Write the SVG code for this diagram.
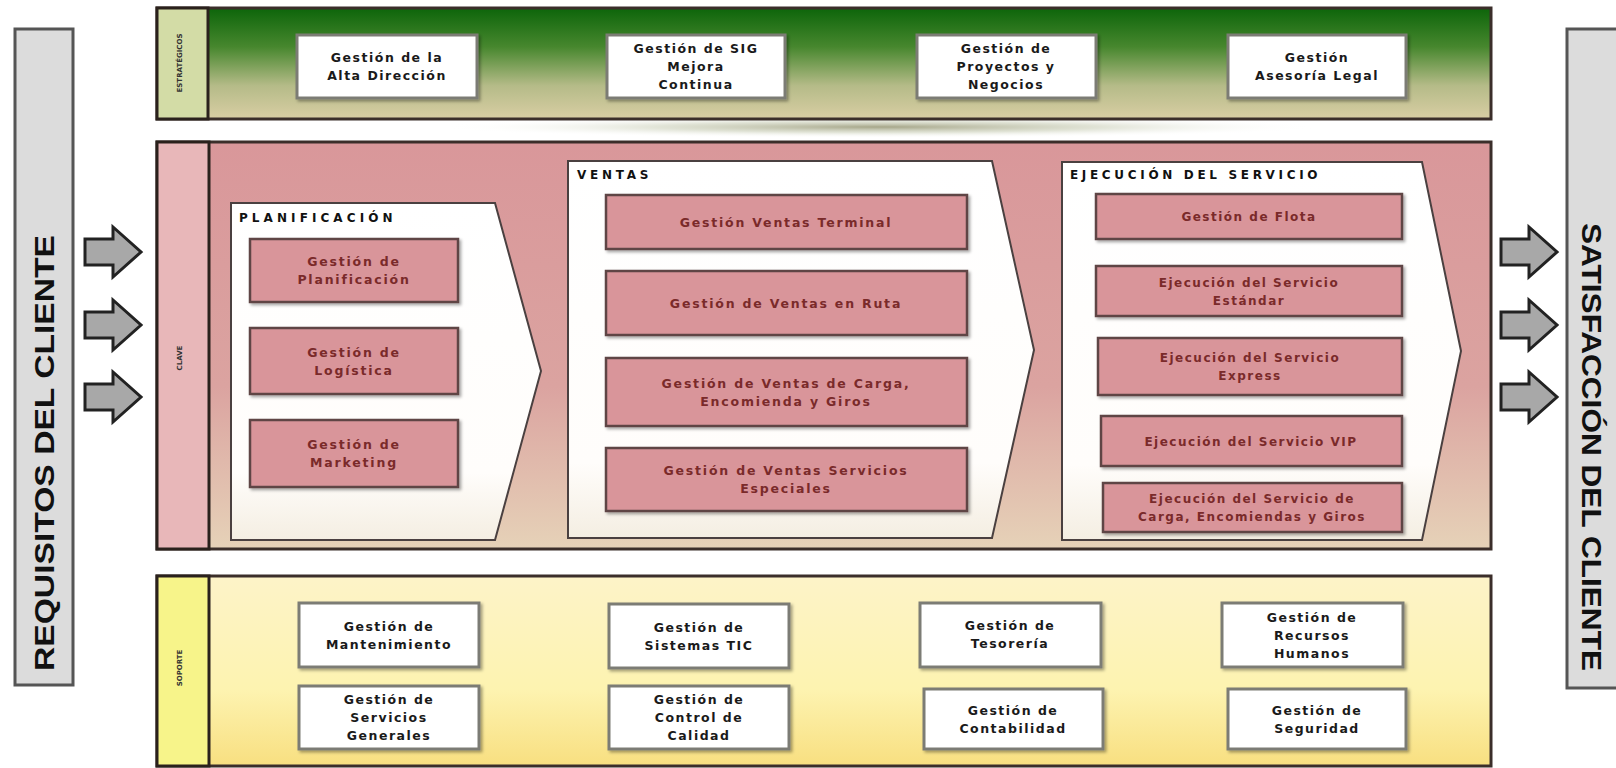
<svg xmlns="http://www.w3.org/2000/svg" width="1616" height="768" viewBox="0 0 1616 768">
<defs>
<linearGradient id="gTop" x1="0" y1="0" x2="0" y2="1">
<stop offset="0" stop-color="#0d650a"/><stop offset="0.35" stop-color="#47872e"/><stop offset="0.7" stop-color="#b5bb88"/><stop offset="1" stop-color="#d9cea4"/>
</linearGradient>
<linearGradient id="gMid" x1="0" y1="0" x2="0" y2="1">
<stop offset="0" stop-color="#d9979a"/><stop offset="0.6" stop-color="#dba3a0"/><stop offset="1" stop-color="#e6d2b8"/>
</linearGradient>
<linearGradient id="gBot" x1="0" y1="0" x2="0" y2="1">
<stop offset="0" stop-color="#fdf3c8"/><stop offset="0.6" stop-color="#fdf3b0"/><stop offset="1" stop-color="#f8df80"/>
</linearGradient>
<linearGradient id="gChev" x1="0" y1="0" x2="0" y2="1">
<stop offset="0" stop-color="#ffffff"/><stop offset="0.8" stop-color="#fffdfb"/><stop offset="1" stop-color="#f4eee2"/>
</linearGradient>
<radialGradient id="gRefl" cx="0.5" cy="0.5" r="0.5">
<stop offset="0" stop-color="#6a6a3a" stop-opacity="0.6"/><stop offset="0.5" stop-color="#a8b08a" stop-opacity="0.35"/><stop offset="1" stop-color="#ffffff" stop-opacity="0"/>
</radialGradient>
<filter id="sh" x="-10%" y="-10%" width="130%" height="130%">
<feDropShadow dx="2" dy="2" stdDeviation="1.5" flood-color="#000" flood-opacity="0.35"/>
</filter>
<path id="arrow" d="M0,-13 H28 V-25 L56,0 L28,25 V13 H0 Z"/>
<style>
.band{stroke:#3b2e2a;stroke-width:3}
.col{stroke:#2a211c;stroke-width:3}
.wbox{fill:#ffffff;stroke:#7c7c74;stroke-width:3;filter:url(#sh)}
.pbox{fill:#d9959a;stroke:#5e4545;stroke-width:2.5;filter:url(#sh)}
.chev{fill:url(#gChev);stroke:#4a4040;stroke-width:2}
.side{fill:#dcdcdc;stroke:#555555;stroke-width:3}
.arr{fill:#a8a8a8;stroke:#222222;stroke-width:3}
.wt{font-family:"DejaVu Sans",Verdana,sans-serif;font-weight:bold;font-size:12.5px;fill:#1a1a1a;text-anchor:middle;letter-spacing:1.5px}
.pt{font-family:"DejaVu Sans",Verdana,sans-serif;font-weight:bold;font-size:12.5px;fill:#7a2a2a;text-anchor:middle;letter-spacing:1.8px}
.et{font-family:"DejaVu Sans",Verdana,sans-serif;font-weight:bold;font-size:12px;fill:#7a2a2a;text-anchor:middle;letter-spacing:1.5px}
.tt{font-family:"DejaVu Sans",Verdana,sans-serif;font-weight:bold;font-size:12px;fill:#111111;letter-spacing:1.5px}
.big{font-family:"Liberation Sans Narrow","Liberation Sans",Arial,sans-serif;font-weight:bold;font-size:28px;fill:#111111;text-anchor:middle}
.lab{font-family:"DejaVu Sans",Verdana,sans-serif;font-weight:bold;font-size:7px;fill:#333333;text-anchor:middle}
</style>
</defs>
<rect width="1616" height="768" fill="#ffffff"/>

<g id="requisitos">
<rect class="side" x="15" y="29" width="58" height="656"/>
<text class="big" transform="translate(54,453) rotate(-90)" textLength="436" lengthAdjust="spacingAndGlyphs">REQUISITOS DEL CLIENTE</text>
</g>
<g id="satisfaccion">
<rect class="side" x="1567" y="29" width="60" height="659"/>
<text class="big" transform="translate(1582,447) rotate(90)" textLength="448" lengthAdjust="spacingAndGlyphs">SATISFACCIÓN DEL CLIENTE</text>
</g>

<ellipse cx="880" cy="127" rx="440" ry="11" fill="url(#gRefl)"/>

<g id="estrategicos">
<rect class="band" x="157" y="8" width="1334" height="111" fill="url(#gTop)"/>
<rect class="col" x="157" y="8" width="51" height="111" fill="#d3dca6"/>
<text class="lab" transform="translate(182,63) rotate(-90)" fill="#3d5a2a">ESTRATÉGICOS</text>
</g>
<g id="clave">
<rect class="band" x="157" y="142" width="1334" height="407" fill="url(#gMid)"/>
<rect class="col" x="157" y="142" width="52" height="407" fill="#e8b7b9"/>
<text class="lab" transform="translate(182,358) rotate(-90)">CLAVE</text>
</g>
<g id="soporte">
<rect class="band" x="157" y="576" width="1334" height="190" fill="url(#gBot)"/>
<rect class="col" x="157" y="576" width="52" height="190" fill="#f7f48a"/>
<text class="lab" transform="translate(182,668) rotate(-90)">SOPORTE</text>
</g>

<g id="arrows">
<use href="#arrow" class="arr" transform="translate(85,252)"/>
<use href="#arrow" class="arr" transform="translate(85,325)"/>
<use href="#arrow" class="arr" transform="translate(85,397)"/>
<use href="#arrow" class="arr" transform="translate(1501,252)"/>
<use href="#arrow" class="arr" transform="translate(1501,325)"/>
<use href="#arrow" class="arr" transform="translate(1501,397)"/>
</g>

<g id="alta-direccion"><rect class="wbox" x="297" y="35" width="180" height="63"/>
<text class="wt" x="387" y="62">Gestión de la</text><text class="wt" x="387" y="80">Alta Dirección</text></g>
<g id="sig"><rect class="wbox" x="607" y="35" width="178" height="63"/>
<text class="wt" x="696" y="53">Gestión de SIG</text><text class="wt" x="696" y="71">Mejora</text><text class="wt" x="696" y="89">Continua</text></g>
<g id="proyectos"><rect class="wbox" x="917" y="35" width="179" height="63"/>
<text class="wt" x="1006" y="53">Gestión de</text><text class="wt" x="1006" y="71">Proyectos y</text><text class="wt" x="1006" y="89">Negocios</text></g>
<g id="legal"><rect class="wbox" x="1228" y="35" width="178" height="63"/>
<text class="wt" x="1317" y="62">Gestión</text><text class="wt" x="1317" y="80">Asesoría Legal</text></g>

<g id="planificacion">
<path class="chev" d="M231,203 H495 L541,371 L495,540 H231 Z"/>
<text class="tt" x="239" y="222" textLength="155">PLANIFICACIÓN</text>
</g>
<g id="g-planificacion"><rect class="pbox" x="250" y="239" width="208" height="63"/>
<text class="pt" x="354" y="266">Gestión de</text><text class="pt" x="354" y="284">Planificación</text></g>
<g id="g-logistica"><rect class="pbox" x="250" y="328" width="208" height="66"/>
<text class="pt" x="354" y="356.5">Gestión de</text><text class="pt" x="354" y="374.5">Logística</text></g>
<g id="g-marketing"><rect class="pbox" x="250" y="420" width="208" height="67"/>
<text class="pt" x="354" y="449">Gestión de</text><text class="pt" x="354" y="467">Marketing</text></g>

<g id="ventas">
<path class="chev" d="M568,161 H992 L1034,350 L992,538 H568 Z"/>
<text class="tt" x="577" y="179" textLength="73">VENTAS</text>
</g>
<g id="v-terminal"><rect class="pbox" x="606" y="195" width="361" height="54"/>
<text class="pt" x="786" y="226.5">Gestión Ventas Terminal</text></g>
<g id="v-ruta"><rect class="pbox" x="606" y="271" width="361" height="64"/>
<text class="pt" x="786" y="307.5">Gestión de Ventas  en Ruta</text></g>
<g id="v-carga"><rect class="pbox" x="606" y="358" width="361" height="68"/>
<text class="pt" x="786" y="387.5">Gestión de Ventas de Carga,</text><text class="pt" x="786" y="405.5">Encomienda y Giros</text></g>
<g id="v-especiales"><rect class="pbox" x="606" y="448" width="361" height="63"/>
<text class="pt" x="786" y="475">Gestión de Ventas Servicios</text><text class="pt" x="786" y="493">Especiales</text></g>

<g id="ejecucion">
<path class="chev" d="M1062,162 H1422 L1461,351 L1422,540 H1062 Z"/>
<text class="tt" x="1070" y="179" textLength="249">EJECUCIÓN DEL SERVICIO</text>
</g>
<g id="e-flota"><rect class="pbox" x="1096" y="194" width="306" height="45"/>
<text class="et" x="1249" y="221">Gestión de Flota</text></g>
<g id="e-estandar"><rect class="pbox" x="1096" y="266" width="306" height="50"/>
<text class="et" x="1249" y="286.5">Ejecución del Servicio</text><text class="et" x="1249" y="304.5">Estándar</text></g>
<g id="e-express"><rect class="pbox" x="1098" y="338" width="304" height="57"/>
<text class="et" x="1250" y="362">Ejecución del Servicio</text><text class="et" x="1250" y="380">Express</text></g>
<g id="e-vip"><rect class="pbox" x="1101" y="416" width="301" height="50"/>
<text class="et" x="1251" y="445.5">Ejecución del Servicio VIP</text></g>
<g id="e-carga"><rect class="pbox" x="1103" y="483" width="299" height="49"/>
<text class="et" x="1252" y="503">Ejecución del Servicio de</text><text class="et" x="1252" y="521">Carga, Encomiendas y Giros</text></g>

<g id="mantenimiento"><rect class="wbox" x="299" y="603" width="180" height="64"/>
<text class="wt" x="389" y="630.5">Gestión de</text><text class="wt" x="389" y="648.5">Mantenimiento</text></g>
<g id="servicios-generales"><rect class="wbox" x="299" y="686" width="180" height="63"/>
<text class="wt" x="389" y="704">Gestión de</text><text class="wt" x="389" y="722">Servicios</text><text class="wt" x="389" y="740">Generales</text></g>
<g id="sistemas-tic"><rect class="wbox" x="609" y="604" width="180" height="64"/>
<text class="wt" x="699" y="631.5">Gestión de</text><text class="wt" x="699" y="649.5">Sistemas TIC</text></g>
<g id="control-calidad"><rect class="wbox" x="609" y="686" width="180" height="63"/>
<text class="wt" x="699" y="704">Gestión de</text><text class="wt" x="699" y="722">Control de</text><text class="wt" x="699" y="740">Calidad</text></g>
<g id="tesoreria"><rect class="wbox" x="920" y="603" width="181" height="64"/>
<text class="wt" x="1010" y="629.5">Gestión de</text><text class="wt" x="1010" y="647.5">Tesorería</text></g>
<g id="contabilidad"><rect class="wbox" x="924" y="689" width="179" height="60"/>
<text class="wt" x="1013" y="714.5">Gestión de</text><text class="wt" x="1013" y="732.5">Contabilidad</text></g>
<g id="recursos-humanos"><rect class="wbox" x="1222" y="603" width="181" height="64"/>
<text class="wt" x="1312" y="621.5">Gestión  de</text><text class="wt" x="1312" y="639.5">Recursos</text><text class="wt" x="1312" y="657.5">Humanos</text></g>
<g id="seguridad"><rect class="wbox" x="1228" y="689" width="178" height="60"/>
<text class="wt" x="1317" y="714.5">Gestión de</text><text class="wt" x="1317" y="732.5">Seguridad</text></g>
</svg>
